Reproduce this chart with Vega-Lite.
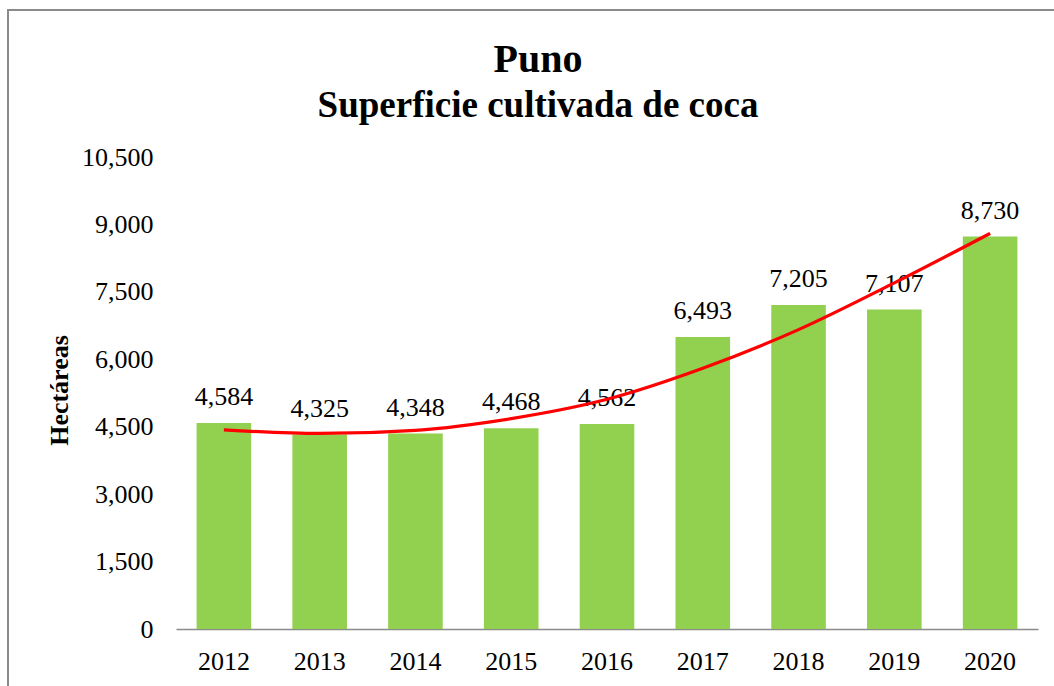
{
  "$schema": "https://vega.github.io/schema/vega-lite/v6.json",
  "width": 1060,
  "height": 700,
  "autosize": {"type": "none"},
  "padding": {"left": 8, "top": 10, "right": 0, "bottom": 0},
  "background": "white",
  "config": {
    "view": {"stroke": "#8a8a8a", "strokeWidth": 2},
    "font": "Liberation Serif",
    "text": {"font": "Liberation Serif"}
  },
  "title": {
    "text": "Puno",
    "subtitle": "Superficie cultivada de coca",
    "font": "Liberation Serif",
    "subtitleFont": "Liberation Serif",
    "fontSize": 40,
    "subtitleFontSize": 37,
    "fontWeight": "bold",
    "subtitleFontWeight": "bold",
    "color": "black",
    "subtitleColor": "black",
    "anchor": "middle",
    "frame": "group",
    "offset": -114,
    "subtitlePadding": 8
  },
  "data": {
    "values": [
      {"year": "2012", "value": 4584, "trend": 4430},
      {"year": "2013", "value": 4325, "trend": 4350},
      {"year": "2014", "value": 4348, "trend": 4420},
      {"year": "2015", "value": 4468, "trend": 4680},
      {"year": "2016", "value": 4562, "trend": 5110},
      {"year": "2017", "value": 6493, "trend": 5800},
      {"year": "2018", "value": 7205, "trend": 6660},
      {"year": "2019", "value": 7107, "trend": 7700},
      {"year": "2020", "value": 8730, "trend": 8800}
    ]
  },
  "encoding": {
    "x": {
      "field": "year",
      "type": "ordinal",
      "scale": {"range": [168, 1030], "paddingInner": 0.43, "paddingOuter": 0.215},
      "axis": {
        "title": null,
        "offset": -81,
        "labelAngle": 0,
        "labelFont": "Liberation Serif",
        "labelFontSize": 26,
        "labelColor": "black",
        "labelPadding": 19,
        "ticks": false,
        "tickSize": 0,
        "domain": true,
        "domainColor": "#8a8a8a",
        "domainWidth": 1.5,
        "grid": false
      }
    }
  },
  "layer": [
    {
      "mark": {"type": "bar", "color": "#92D050"},
      "encoding": {
        "y": {
          "field": "value",
          "type": "quantitative",
          "scale": {"domain": [0, 10500], "range": [619, 147], "nice": false, "zero": true},
          "axis": {
            "title": "Hectáreas",
            "titleFont": "Liberation Serif",
            "titleFontSize": 26,
            "titleFontWeight": "bold",
            "titleColor": "black",
            "titleX": -117,
            "titleY": 380,
            "titleAngle": -90,
            "titleAlign": "center",
            "titleBaseline": "middle",
            "offset": -168,
            "values": [0, 1500, 3000, 4500, 6000, 7500, 9000, 10500],
            "format": ",d",
            "labelFont": "Liberation Serif",
            "labelFontSize": 26,
            "labelColor": "black",
            "labelPadding": 23,
            "ticks": false,
            "tickSize": 0,
            "domain": false,
            "grid": false
          }
        }
      }
    },
    {
      "mark": {"type": "text", "baseline": "alphabetic", "dy": -18, "font": "Liberation Serif", "fontSize": 26, "color": "black"},
      "encoding": {
        "y": {"field": "value", "type": "quantitative"},
        "text": {"field": "value", "type": "quantitative", "format": ",d"}
      }
    },
    {
      "mark": {"type": "line", "color": "#FF0000", "strokeWidth": 3.2, "interpolate": "monotone"},
      "encoding": {
        "y": {"field": "trend", "type": "quantitative"}
      }
    }
  ]
}
